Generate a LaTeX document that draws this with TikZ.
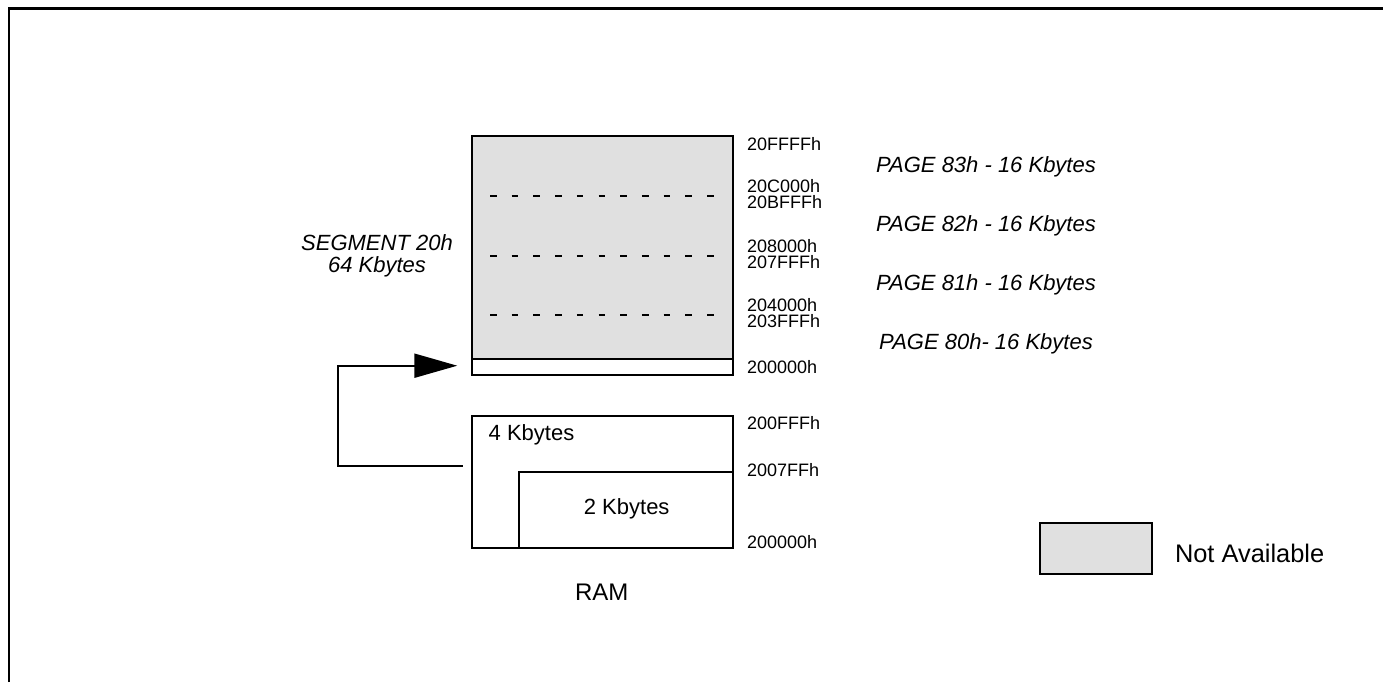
\documentclass[tikz,border=0pt]{standalone}
\usepackage{fontspec}
\setmainfont{Liberation Sans}
\usetikzlibrary{arrows.meta, positioning}
\definecolor{navail}{RGB}{224,224,224}

\tikzset{
  addr/.style={anchor=base west, inner sep=0pt, font=\fontsize{9}{9}\selectfont},
  pagelbl/.style={anchor=base, inner sep=0pt, font=\fontsize{11}{11}\selectfont\itshape},
  pagesep/.style={line width=1pt, dash pattern=on 3.3pt off 7.55pt},
}

\begin{document}
\begin{tikzpicture}[x=0.5pt, y=-0.5pt, line width=1pt, >={Triangle[length=21.5pt, width=12pt]}]
    \useasboundingbox (0,0) rectangle (1383,682);

    \coordinate (f01) at (   9, 682);
    \coordinate (f02) at (   9, 8.5);
    \coordinate (f03) at (1383, 8.5);

    \coordinate (a01) at (471.7,135.7);
    \coordinate (a02) at (732.7,359.3);
    \coordinate (a03) at (471.7,359.3);
    \coordinate (a04) at (732.7,  375);
    \coordinate (a05) at (471.7,  416);
    \coordinate (a06) at (732.7,  548);
    \coordinate (a07) at (  519,471.5);

    \coordinate (d01) at (490,195.7);
    \coordinate (d02) at (714,195.7);
    \coordinate (d03) at (490,  256);
    \coordinate (d04) at (714,  256);
    \coordinate (d05) at (490,314.7);
    \coordinate (d06) at (714,314.7);

    \coordinate (b01) at (  1040,522.7);
    \coordinate (b02) at (1152.3,  574);

    \coordinate (c01) at (462.7,  466);
    \coordinate (c02) at (337.7,365.7);
    \coordinate (c03) at (457.3,365.7);

    \draw[line width=1.1pt] (f01) -- (f02) -- (f03);

    \draw[fill=navail] (a01) rectangle (a02);
    \draw (a03) rectangle (a04);
    \draw (a05) rectangle (a06);
    \draw (a07) rectangle (a06);

    \draw[pagesep] (d01) -- (d02);
    \draw[pagesep] (d03) -- (d04);
    \draw[pagesep] (d05) -- (d06);

    \draw[fill=navail] (b01) rectangle (b02);

    \draw[->] (c01) -| (c02) -- (c03);

    \node[addr] (h01) at (746,  150) {20FFFFh};
    \node[addr] (h02) at (746,192.5) {20C000h};
    \node[addr] (h03) at (746,208.5) {20BFFFh};
    \node[addr] (h04) at (746,252.5) {208000h};
    \node[addr] (h05) at (746,268.5) {207FFFh};
    \node[addr] (h06) at (746,311.2) {204000h};
    \node[addr] (h07) at (746,327.2) {203FFFh};
    \node[addr] (h08) at (746,  373) {200000h};
    \node[addr] (h09) at (746,429.3) {200FFFh};
    \node[addr] (h10) at (746,  476) {2007FFh};
    \node[addr] (h11) at (746,548.7) {200000h};

    \node[pagelbl] (p83) at (986,172.7) {PAGE 83h - 16 Kbytes};
    \node[pagelbl] (p82) at (986,  231) {PAGE 82h - 16 Kbytes};
    \node[pagelbl] (p81) at (986,290.4) {PAGE 81h - 16 Kbytes};
    \node[pagelbl] (p80) at (986,349.4) {PAGE 80h- 16 Kbytes};

    \node[anchor=base, inner sep=0pt, align=center, font=\fontsize{11}{11}\selectfont\itshape] (seg) at (377,272.7) {SEGMENT 20h\\64 Kbytes};

    \node[anchor=base west, inner sep=0pt, font=\fontsize{11}{11}\selectfont] (k4) at (487.7,440) {4 Kbytes};
    \node[anchor=base, inner sep=0pt, font=\fontsize{11}{11}\selectfont] (k2) at (626.7,514.3) {2 Kbytes};
    \node[anchor=base, inner sep=0pt, font=\fontsize{12}{12}\selectfont] (ram) at (601.7,600.7) {RAM};
    \node[anchor=base west, inner sep=0pt, font=\fontsize{12.7}{12.7}\selectfont] (na) at (1174,562.7) {Not Available};
\end{tikzpicture}
\end{document}
